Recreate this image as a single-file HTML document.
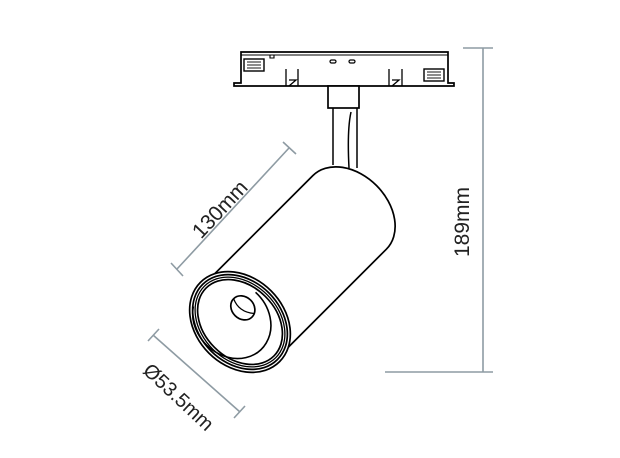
<!DOCTYPE html>
<html><head><style>
html,body{margin:0;padding:0;background:#fff;}
svg{display:block;}
text{font-family:"Liberation Sans",sans-serif;fill:#222;}
</style></head><body>
<svg width="620" height="458" viewBox="0 0 620 458" xmlns="http://www.w3.org/2000/svg">
<g fill="none" stroke="#000" stroke-width="1.7">
  <!-- track adapter -->
  <path d="M241,52 L448,52 L448,83 L454,83 L454,86 L234,86 L234,83 L241,83 Z" fill="#fff"/>
  <line x1="241" y1="55" x2="448" y2="55" stroke-width="1.1"/>
  <rect x="244" y="59" width="20" height="12" stroke-width="1.4"/>
  <line x1="247" y1="62" x2="261" y2="62" stroke-width="0.9"/>
  <line x1="247" y1="65" x2="261" y2="65" stroke-width="0.9"/>
  <line x1="247" y1="68" x2="261" y2="68" stroke-width="0.9"/>
  <rect x="424" y="69" width="20" height="12" stroke-width="1.4"/>
  <line x1="427" y1="72" x2="441" y2="72" stroke-width="0.9"/>
  <line x1="427" y1="75" x2="441" y2="75" stroke-width="0.9"/>
  <line x1="427" y1="78" x2="441" y2="78" stroke-width="0.9"/>
  <path d="M270,55 L270,58 L274,58 L274,55" stroke-width="1.1"/>
  <rect x="330" y="60" width="6" height="3" rx="1.5" stroke-width="1.2"/>
  <rect x="349" y="60" width="6" height="3" rx="1.5" stroke-width="1.2"/>
  <path d="M286,86 L286,69 M298,86 L298,69 M289,80 L296,80 L289,86" stroke-width="1.3"/>
  <path d="M389,86 L389,69 M402,86 L402,69 M392,80 L399,80 L392,86" stroke-width="1.3"/>
  <!-- stem -->
  <rect x="328" y="86" width="31" height="22" fill="#fff"/>
  <path d="M333,108 L333,165 M357,108 L357,168 M351,112 Q347,130 349,168" stroke-width="1.5"/>
  <!-- cylinder -->
  <g transform="translate(240,322) rotate(-45)">
    <path d="M0,-52 L155,-52 A38,52 0 0 1 155,52 L0,52" fill="#fff"/>
    <ellipse cx="0" cy="0" rx="44" ry="56" fill="#fff"/>
    <ellipse cx="0" cy="0" rx="41" ry="53"/>
    <ellipse cx="0" cy="0" rx="38.5" ry="50.5" stroke-width="1.3"/>
    <ellipse cx="0" cy="0" rx="36" ry="48"/>
    <path d="M-22,-44 A36,42 0 1 0 32,-10" stroke-width="1.6"/>
    <ellipse cx="12" cy="-8" rx="11" ry="13"/>
    <path d="M12,-21 Q6,-8 16,4" stroke-width="1.3"/>
  </g>
</g>
<g stroke="#8e9ba3" stroke-width="1.6" fill="none">
  <line x1="483" y1="48" x2="483" y2="372"/>
  <line x1="463" y1="48" x2="493" y2="48"/>
  <line x1="385" y1="372" x2="493" y2="372"/>
  <line x1="177" y1="269" x2="289" y2="148"/>
  <line x1="171" y1="263" x2="183" y2="276"/>
  <line x1="283" y1="142" x2="296" y2="154"/>
  <line x1="153" y1="335" x2="240" y2="412"/>
  <line x1="148" y1="341" x2="159" y2="329"/>
  <line x1="234" y1="418" x2="245" y2="406"/>
</g>
<text x="0" y="0" font-size="21" text-anchor="middle" transform="translate(469,222) rotate(-90)">189mm</text>
<text x="0" y="0" font-size="21" text-anchor="middle" transform="translate(225,214) rotate(-47)">130mm</text>
<text x="0" y="0" font-size="20" text-anchor="middle" transform="translate(174,402) rotate(43)">Ø53.5mm</text>
</svg>
</body></html>
